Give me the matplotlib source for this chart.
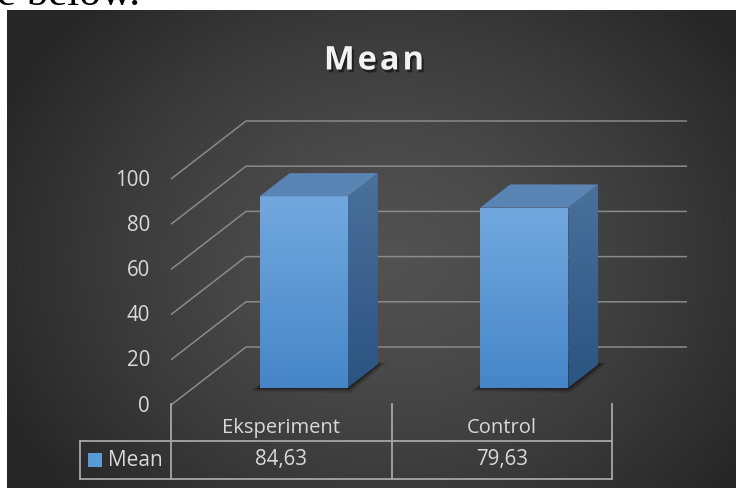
import numpy as np
import matplotlib.pyplot as plt
from matplotlib.patches import Polygon, Rectangle
import matplotlib.patheffects as pe

# data
categories = ['Eksperiment', 'Control']
means = [84.63, 79.63]
value_labels = ['84,63', '79,63']
series_name = 'Mean'
yticks = [0, 20, 40, 60, 80, 100]
title = 'Mean'

W, H = 736, 488
TXT = '#d9d9d9'
GRID = '#8a8a8a'
FONT = 'Open Sans'

fig = plt.figure(figsize=(W / 100, H / 100), dpi=100)
fig.patch.set_facecolor('white')

# canvas axes, data coords == pixels
bg = fig.add_axes([0, 0, 1, 1])
bg.set_xlim(0, W)
bg.set_ylim(0, H)
bg.axis('off')

# front plane of the 3d plot area
ax = fig.add_axes([171 / W, (H - 405) / H, (612 - 171) / W, (405 - 179) / H])
ax.set_xlim(0, len(categories))
ax.set_ylim(0, 100)
ax.axis('off')
ax.patch.set_alpha(0)

DEPTH = np.array([75.0, 58.0])


def P(x, y, d=0.0):
    # front plane point pushed back by depth d (0 front .. 1 back wall)
    return ax.transData.transform((x, y)) + d * DEPTH


# dark panel with radial gradient
px0, px1, py0, py1 = 7, W, 0, H - 10
gx, gy = np.meshgrid(np.linspace(px0, px1, 400), np.linspace(py1, py0, 300))
r = np.sqrt(((gx - 390) / 430) ** 2 + ((gy - 230) / 360) ** 2)
shade = 0.32 - 0.17 * np.clip(r, 0, 1) ** 1.4
bg.imshow(np.dstack([shade] * 3), extent=(px0, px1, py0, py1), origin='upper',
          aspect='auto', zorder=0, interpolation='bilinear')
bg.text(-3, H - 5, 'e below.', family='Liberation Serif', fontsize=31,
        color='black', ha='left', va='baseline', zorder=1)

# gridlines on left wall and back wall
n = len(categories)
for v in yticks:
    a, b, c = P(0, v, 0), P(0, v, 1), P(n, v, 1)
    bg.plot([a[0], b[0], c[0]], [a[1], b[1], c[1]], color=GRID, lw=1.1, zorder=2,
            solid_capstyle='butt')
    bg.text(a[0] - 21, a[1] - 1, str(v), ha='right', va='center', fontsize=14.8,
            color=TXT, family=FONT, zorder=3)


def grad_face(verts, top, bottom, z):
    poly = Polygon(verts, closed=True, facecolor='none', edgecolor='none', zorder=z)
    bg.add_patch(poly)
    xs, ys = verts[:, 0], verts[:, 1]
    t = np.linspace(0, 1, 100)[:, None]
    col = np.array(top)[None, :] * (1 - t) + np.array(bottom)[None, :] * t
    img = bg.imshow(col[:, None, :] / 255.0, extent=(xs.min(), xs.max(), ys.min(), ys.max()),
                    origin='upper', aspect='auto', zorder=z, interpolation='bilinear')
    img.set_clip_path(poly)


# bars
for i, v in enumerate(means):
    x0, x1 = i + 0.3, i + 0.7
    d0, d1 = 0.3, 0.7
    base = np.array([P(x0, 0, d0), P(x1, 0, d0), P(x1, 0, d1), P(x0, 0, d1)])
    for k, al in [(9, 0.12), (6, 0.18), (3, 0.3)]:
        sh = base + np.array([[-k, -k * 0.4], [k * 0.3, -k * 0.6], [k, k * 0.2], [-k * 0.3, k * 0.4]])
        bg.add_patch(Polygon(sh, closed=True, facecolor='black', edgecolor='none',
                             alpha=al, zorder=3))
    front = np.array([P(x0, 0, d0), P(x1, 0, d0), P(x1, v, d0), P(x0, v, d0)])
    side = np.array([P(x1, 0, d0), P(x1, 0, d1), P(x1, v, d1), P(x1, v, d0)])
    top = np.array([P(x0, v, d0), P(x1, v, d0), P(x1, v, d1), P(x0, v, d1)])
    grad_face(side, (74, 112, 156), (44, 84, 128), 4)
    grad_face(front, (114, 168, 222), (70, 134, 200), 5)
    bg.add_patch(Polygon(top, closed=True, facecolor='#5a84b4', edgecolor='none', zorder=5))

# data table under the plot
ytop, ymid, ybot = H - 404, H - 441, H - 479
xl = 80
cols = [P(k, 0, 0)[0] for k in range(n + 1)]
LINE = '#a6a6a6'
for cx in cols:
    bg.plot([cx, cx], [ytop, ybot], color=LINE, lw=1.3, zorder=2)
bg.plot([xl, cols[-1]], [ymid, ymid], color=LINE, lw=1.3, zorder=2)
bg.plot([xl, cols[-1]], [ybot, ybot], color=LINE, lw=1.3, zorder=2)
bg.plot([xl, xl], [ymid, ybot], color=LINE, lw=1.3, zorder=2)
for k, name in enumerate(categories):
    cx = (cols[k] + cols[k + 1]) / 2
    bg.text(cx, H - 428, name, ha='center', va='center', fontsize=14.5, color=TXT,
            family=FONT, zorder=3)
    bg.text(cx, H - 460, value_labels[k], ha='center', va='center', fontsize=14.8,
            color=TXT, family=FONT, zorder=3)
bg.add_patch(Rectangle((88, H - 467), 14, 14, facecolor='#5b9bd5', edgecolor='none', zorder=3))
bg.text(108, H - 460, series_name, ha='left', va='center', fontsize=15, color=TXT,
        family=FONT, zorder=3)

# title, drawn letter by letter for the wider spacing
renderer = fig.canvas.get_renderer()
shadow = [pe.SimplePatchShadow(offset=(1.5, -2), shadow_rgbFace='black', alpha=0.5), pe.Normal()]
letters = []
for ch in title:
    t = bg.text(0, H - 57, ch, ha='left', va='center_baseline', fontsize=23.5,
                fontweight='bold', color='#f2f2f2', family=FONT, zorder=3,
                path_effects=shadow)
    letters.append(t)
widths = [t.get_window_extent(renderer).width for t in letters]
spacing = 3.0
total = sum(widths) + spacing * (len(widths) - 1)
xpos = 374 - total / 2
for t, w in zip(letters, widths):
    t.set_x(xpos)
    xpos += w + spacing

fig.savefig('out.png', dpi=100, facecolor='white')
